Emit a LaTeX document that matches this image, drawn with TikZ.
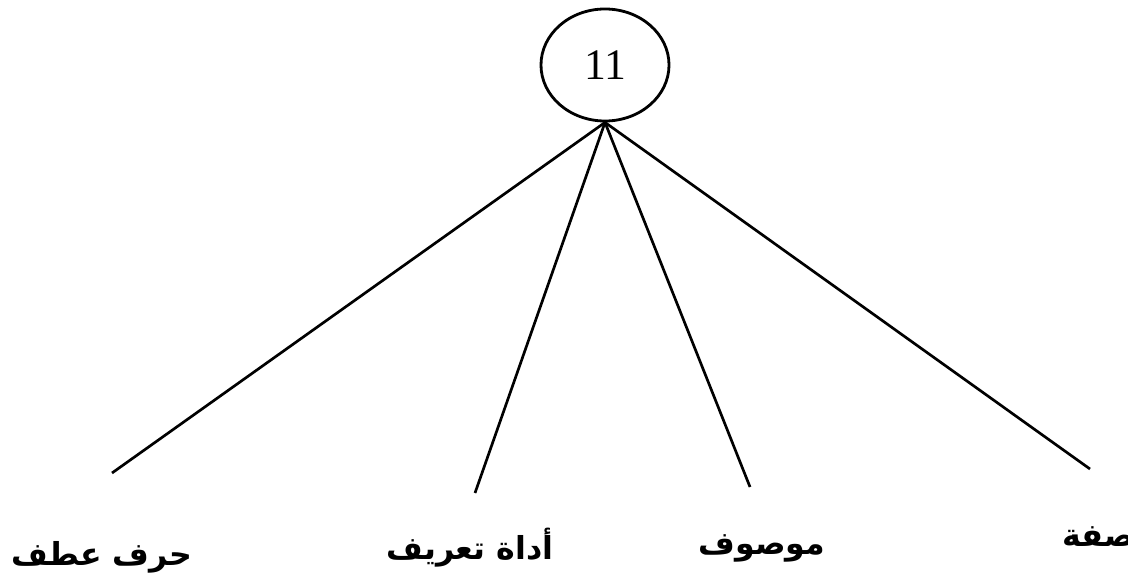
\documentclass[tikz,border=0pt]{standalone}
\usepackage{fontspec}
\setmainfont{Liberation Serif}
\newfontfamily\arabicfont[Script=Arabic]{DejaVu Sans}
\TeXXeTstate=1
\usetikzlibrary{shapes.geometric}

\tikzset{
  rootnode/.style={draw, ellipse, line width=2pt, inner sep=0pt,
    minimum width=3.2cm, minimum height=2.8cm,
    font=\fontsize{31}{34}\selectfont},
  branch/.style={line width=1.9pt},
  leaf/.style={font=\arabicfont\bfseries\fontsize{22.5}{25}\selectfont, inner sep=0pt}
}

\begin{document}
\begin{tikzpicture}[x=0.025cm, y=-0.025cm]
\useasboundingbox (0,0) rectangle (1128,583);

% Root
\node[rootnode] (root) at (605,65) {11};

% Branch ends
\coordinate (E1) at (112,473);
\coordinate (E2) at (475,493);
\coordinate (E3) at (750,487);
\coordinate (E4) at (1090,469);

\draw[branch] (root.south) -- (E1);
\draw[branch] (root.south) -- (E2);
\draw[branch] (root.south) -- (E3);
\draw[branch] (root.south) -- (E4);

% Labels
\node[leaf] (L1) at (102,557) {\beginR حرف عطف\endR};
\node[leaf] (L2) at (470,548) {\beginR أداة تعريف\endR};
\node[leaf] (L3) at (762,548) {\beginR موصوف\endR};
\node[leaf, anchor=west] (L4) at (1062,537) {\beginR صفة\endR};

\end{tikzpicture}
\end{document}
